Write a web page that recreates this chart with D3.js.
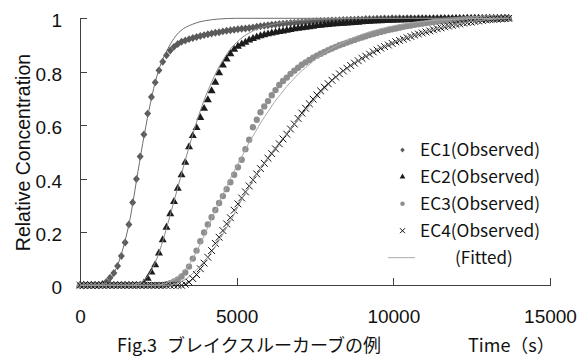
<!DOCTYPE html>
<html>
<head>
<meta charset="utf-8">
<script src="https://cdn.jsdelivr.net/npm/d3@7"></script>
<style>
  body { margin: 0; background: #fff; }
  svg { display: block; }
  .c-axis path, .c-axis line { stroke: #404040; shape-rendering: crispEdges; }
  .c-axis text { font-family: "Liberation Sans", Arial, sans-serif; font-size: 19px; fill: #111; }
</style>
</head>
<body>
<div id="breakthroughChart"></div>
<script>
// sampling times of the observed data (s)
const obsTimes = [
  0, 120, 240, 360, 480, 600, 720, 840, 960, 1080,
  1200, 1320, 1440, 1560, 1680, 1800, 1920, 2040, 2160, 2280,
  2400, 2520, 2640, 2760, 2880, 3000, 3120, 3240, 3360, 3480,
  3600, 3720, 3840, 3960, 4080, 4200, 4320, 4440, 4560, 4680,
  4800, 4920, 5040, 5160, 5280, 5400, 5520, 5640, 5760, 5880,
  6000, 6120, 6240, 6360, 6480, 6600, 6720, 6840, 6960, 7080,
  7200, 7320, 7440, 7560, 7680, 7800, 7920, 8040, 8160, 8280,
  8400, 8520, 8640, 8760, 8880, 9000, 9120, 9240, 9360, 9480,
  9600, 9720, 9840, 9960, 10080, 10200, 10320, 10440, 10560, 10680,
  10800, 10920, 11040, 11160, 11280, 11400, 11520, 11640, 11760, 11880,
  12000, 12120, 12240, 12360, 12480, 12600, 12720, 12840, 12960, 13080,
  13200, 13320, 13440, 13560, 13680
];

const ec1Observed = [
  0, 0, 0, 0, 0, 0, 0.005, 0.012, 0.028, 0.046,
  0.072, 0.11, 0.16, 0.228, 0.31, 0.398, 0.482, 0.565, 0.643, 0.705,
  0.76, 0.805, 0.837, 0.862, 0.879, 0.893, 0.904, 0.912, 0.917, 0.922,
  0.926, 0.93, 0.934, 0.937, 0.94, 0.943, 0.946, 0.948, 0.951, 0.953,
  0.955, 0.957, 0.959, 0.961, 0.962, 0.964, 0.966, 0.968, 0.97, 0.972,
  0.974, 0.976, 0.977, 0.979, 0.98, 0.981, 0.982, 0.983, 0.984, 0.985,
  0.986, 0.987, 0.988, 0.989, 0.99, 0.99, 0.991, 0.992, 0.992, 0.993,
  0.994, 0.994, 0.995, 0.995, 0.996, 0.996, 0.997, 0.997, 0.997, 0.998,
  0.998, 0.999, 0.998, 1, 0.999, 1, 0.999, 1, 1, 0.999,
  1, 1, 1, 0.999, 1, 1, 1, 1, 1, 1,
  1, 1, 1, 1, 1, 1, 1, 1, 1, 1,
  1, 1, 1, 1, 1
];

const ec2Observed = [
  0, 0, 0, 0, 0, 0, 0, 0, 0, 0,
  0, 0, 0, 0, 0, 0, 0, 0.008, 0.026, 0.049,
  0.076, 0.12, 0.17, 0.217, 0.267, 0.313, 0.363, 0.413, 0.46, 0.518,
  0.56, 0.59, 0.628, 0.662, 0.694, 0.728, 0.76, 0.795, 0.824, 0.847,
  0.867, 0.883, 0.895, 0.903, 0.91, 0.918, 0.924, 0.929, 0.934, 0.938,
  0.941, 0.944, 0.947, 0.95, 0.952, 0.955, 0.957, 0.96, 0.962, 0.964,
  0.966, 0.968, 0.97, 0.972, 0.973, 0.975, 0.976, 0.978, 0.979, 0.98,
  0.981, 0.982, 0.983, 0.984, 0.985, 0.986, 0.987, 0.988, 0.989, 0.99,
  0.99, 0.991, 0.992, 0.992, 0.993, 0.993, 0.994, 0.994, 0.995, 0.995,
  0.996, 0.996, 0.996, 0.997, 0.997, 0.997, 0.998, 0.998, 0.998, 0.998,
  0.999, 0.999, 0.999, 1, 0.999, 1, 1, 1, 1, 1,
  1, 1, 1, 1, 1
];

const ec3Observed = [
  0, 0, 0, 0, 0, 0, 0, 0, 0, 0,
  0, 0, 0, 0, 0, 0, 0, 0, 0, 0,
  0, 0, 0, 0.004, 0.008, 0.014, 0.022, 0.033, 0.048, 0.07,
  0.1, 0.13, 0.165, 0.198, 0.228, 0.255, 0.282, 0.308, 0.334, 0.36,
  0.386, 0.414, 0.442, 0.47, 0.51, 0.545, 0.592, 0.62, 0.648, 0.67,
  0.69, 0.712, 0.731, 0.75, 0.765, 0.778, 0.792, 0.804, 0.815, 0.826,
  0.835, 0.844, 0.852, 0.86, 0.867, 0.874, 0.881, 0.887, 0.893, 0.899,
  0.904, 0.909, 0.914, 0.919, 0.924, 0.928, 0.933, 0.937, 0.941, 0.945,
  0.949, 0.952, 0.956, 0.959, 0.962, 0.965, 0.968, 0.971, 0.973, 0.976,
  0.978, 0.98, 0.982, 0.984, 0.986, 0.988, 0.989, 0.991, 0.992, 0.993,
  0.994, 0.995, 0.996, 0.997, 0.997, 0.998, 0.998, 0.999, 0.999, 1,
  1, 1, 1, 1, 1
];

const ec4Observed = [
  0, 0, 0, 0, 0, 0, 0, 0, 0, 0,
  0, 0, 0, 0, 0, 0, 0, 0, 0, 0,
  0, 0, 0, 0, 0, 0, 0, 0, 0.004, 0.012,
  0.025, 0.04, 0.062, 0.083, 0.105, 0.13, 0.157, 0.18, 0.205, 0.23,
  0.253, 0.281, 0.305, 0.327, 0.35, 0.372, 0.395, 0.417, 0.437, 0.457,
  0.476, 0.493, 0.511, 0.53, 0.548, 0.566, 0.585, 0.604, 0.625, 0.645,
  0.663, 0.68, 0.697, 0.713, 0.728, 0.742, 0.755, 0.768, 0.78, 0.792,
  0.803, 0.813, 0.823, 0.832, 0.841, 0.85, 0.858, 0.866, 0.874, 0.881,
  0.888, 0.894, 0.9, 0.906, 0.912, 0.917, 0.922, 0.927, 0.932, 0.937,
  0.941, 0.945, 0.949, 0.953, 0.957, 0.961, 0.964, 0.968, 0.971, 0.974,
  0.977, 0.979, 0.982, 0.984, 0.986, 0.988, 0.99, 0.992, 0.994, 0.995,
  0.996, 0.997, 0.998, 0.999, 1
];

// fitted curves as [time, concentration]
const ec1Fitted = [
  [0, 0], [600, 0.001], [800, 0.008], [1000, 0.03], [1200, 0.075], [1400, 0.15],
  [1600, 0.25], [1800, 0.39], [2000, 0.53], [2200, 0.655], [2400, 0.76], [2600, 0.835],
  [2800, 0.885], [3000, 0.925], [3200, 0.952], [3400, 0.968], [3600, 0.978], [3800, 0.986],
  [4000, 0.991], [4400, 0.997], [5000, 1], [13680, 1]
];
const ec2Fitted = [
  [0, 0], [1600, 0], [1800, 0.004], [2000, 0.015], [2200, 0.04], [2400, 0.085],
  [2600, 0.15], [2800, 0.23], [3000, 0.315], [3200, 0.4], [3400, 0.485], [3600, 0.565],
  [3800, 0.64], [4000, 0.705], [4200, 0.76], [4400, 0.81], [4600, 0.85], [4800, 0.885],
  [5000, 0.91], [5200, 0.93], [5400, 0.945], [5600, 0.957], [6000, 0.973], [6500, 0.985],
  [7000, 0.992], [8000, 0.998], [9000, 1], [13680, 1]
];
const ec3Fitted = [
  [0, 0], [2400, 0], [2600, 0.003], [2800, 0.01], [3000, 0.022], [3200, 0.04],
  [3400, 0.065], [3600, 0.1], [3800, 0.145], [4000, 0.195], [4200, 0.25], [4400, 0.3],
  [4600, 0.35], [4800, 0.4], [5000, 0.445], [5200, 0.49], [5400, 0.535], [5600, 0.575],
  [5800, 0.615], [6000, 0.65], [6200, 0.685], [6400, 0.715], [6600, 0.745], [6800, 0.77],
  [7000, 0.795], [7200, 0.815], [7400, 0.835], [7600, 0.855], [7800, 0.87], [8000, 0.885],
  [8500, 0.915], [9000, 0.94], [9500, 0.958], [10000, 0.972], [10500, 0.982], [11000, 0.989],
  [11500, 0.994], [12000, 0.997], [13000, 0.999], [13680, 1]
];
const ec4Fitted = [
  [0, 0], [2800, 0], [3000, 0.004], [3200, 0.012], [3400, 0.025], [3600, 0.045],
  [3800, 0.068], [4000, 0.095], [4200, 0.125], [4400, 0.16], [4600, 0.2], [4800, 0.24],
  [5000, 0.285], [5200, 0.33], [5400, 0.37], [5600, 0.41], [5800, 0.445], [6000, 0.48],
  [6200, 0.51], [6400, 0.54], [6600, 0.568], [6800, 0.597], [7000, 0.625], [7200, 0.655],
  [7400, 0.683], [7600, 0.71], [8000, 0.76], [8500, 0.81], [9000, 0.85], [9500, 0.885],
  [10000, 0.91], [10500, 0.932], [11000, 0.95], [11500, 0.965], [12000, 0.978], [12500, 0.988],
  [13000, 0.995], [13680, 1]
];

const seriesNames = ['EC1(Observed)', 'EC2(Observed)', 'EC3(Observed)', 'EC4(Observed)'];
const fittedName = '(Fitted)';
const xTicks = [0, 5000, 10000, 15000];
const yTicks = [0, 0.2, 0.4, 0.6, 0.8, 1];

// little diamond, a bit taller than wide like the Excel one
const symbolDiamondSq = {
  draw(ctx, size) {
    const r = Math.sqrt(size / 2);
    ctx.moveTo(0, -r * 1.15);
    ctx.lineTo(r, 0);
    ctx.lineTo(0, r * 1.15);
    ctx.lineTo(-r, 0);
    ctx.closePath();
  }
};

class BreakthroughChart {
  constructor() {
    this.chartContainer = d3.select('#breakthroughChart');
    this.chart = null;
    this.chartWidth = 585;
    this.chartHeight = 356;
    this.plot = { left: 80, right: 550, top: 18.3, bottom: 285.3 };
    this.timeScale = null;
    this.concScale = null;
    this.observed = [ec1Observed, ec2Observed, ec3Observed, ec4Observed];
    this.fitted = [ec1Fitted, ec2Fitted, ec3Fitted, ec4Fitted];
    this.markers = [
      { type: symbolDiamondSq, size: 24, legendSize: 10, fill: '#5a5a5a', stroke: 'none' },
      { type: d3.symbolTriangle, size: 28, legendSize: 14, fill: '#1c1c1c', stroke: 'none' },
      { type: d3.symbolCircle, size: 32, legendSize: 16, fill: '#8e8e8e', stroke: 'none' },
      { type: d3.symbolTimes, size: 32, legendSize: 18, fill: 'none', stroke: '#111' }
    ];
    this.fitColors = ['#6e6e6e', '#8a8a8a', '#aaa', '#999'];
  }

  render() {
    this.createSvg();
    this.initScales();
    this.drawAxes();
    this.drawPoints();
    this.drawLines();
    this.drawLegend();
    this.drawLabels();
  }

  createSvg() {
    this.chart = this.chartContainer
      .append('svg')
      .attr('width', this.chartWidth)
      .attr('height', this.chartHeight);
  }

  initScales() {
    this.timeScale = d3.scaleLinear().domain([0, 15000]).range([this.plot.left, this.plot.right]);
    this.concScale = d3.scaleLinear().domain([0, 1]).range([this.plot.bottom, this.plot.top]);
  }

  drawAxes() {
    // ticks point inward, like the original
    let concAxis = d3.axisLeft(this.concScale)
      .tickValues(yTicks)
      .tickSizeInner(-7)
      .tickSizeOuter(0)
      .tickPadding(18)
      .tickFormat(d3.format(''));
    let timeAxis = d3.axisBottom(this.timeScale)
      .tickValues(xTicks)
      .tickSizeInner(-7)
      .tickSizeOuter(0)
      .tickFormat(d3.format('d'));

    let yg = this.chart.append('g')
      .attr('class', 'c-axis')
      .attr('transform', 'translate(' + this.plot.left + ', 0)')
      .call(concAxis);
    yg.selectAll('text').attr('dy', '0.45em');

    let xg = this.chart.append('g')
      .attr('class', 'c-axis')
      .attr('transform', 'translate(0, ' + this.plot.bottom + ')')
      .call(timeAxis);
    xg.selectAll('text').attr('y', 38).attr('dy', 0);
  }

  drawPoints() {
    this.observed.forEach((values, i) => {
      let m = this.markers[i];
      let sym = d3.symbol().type(m.type).size(m.size);
      this.chart.append('g')
        .attr('class', 'c-points')
        .selectAll('path')
        .data(values)
        .join('path')
        .attr('transform', (d, j) => 'translate(' + this.timeScale(obsTimes[j]) + ',' + this.concScale(d) + ')')
        .attr('d', sym)
        .attr('fill', m.fill)
        .attr('stroke', m.stroke)
        .attr('stroke-width', 1);
    });
  }

  drawLines() {
    let line = d3.line()
      .x((d) => this.timeScale(d[0]))
      .y((d) => this.concScale(d[1]))
      .curve(d3.curveMonotoneX);

    this.fitted.forEach((pts, i) => {
      this.chart.append('path')
        .attr('class', 'c-line')
        .attr('d', line(pts))
        .attr('fill', 'none')
        .attr('stroke', this.fitColors[i])
        .attr('stroke-width', 1);
    });
  }

  drawLegend() {
    let rowY = (i) => 150 + i * 26.9;
    let lg = this.chart.append('g').attr('class', 'c-legend');

    seriesNames.forEach((name, i) => {
      let m = this.markers[i];
      lg.append('path')
        .attr('transform', 'translate(402.5,' + rowY(i) + ')')
        .attr('d', d3.symbol().type(m.type).size(m.legendSize))
        .attr('fill', m.fill)
        .attr('stroke', m.stroke);
      lg.append('text')
        .attr('x', 420)
        .attr('y', rowY(i))
        .attr('dy', '0.36em')
        .attr('font-family', '"Noto Sans CJK JP", sans-serif')
        .attr('font-size', 17)
        .attr('textLength', 120)
        .attr('lengthAdjust', 'spacingAndGlyphs')
        .attr('fill', '#111')
        .text(name);
    });

    lg.append('line')
      .attr('x1', 388).attr('x2', 415)
      .attr('y1', rowY(4)).attr('y2', rowY(4))
      .attr('stroke', '#b8b8b8')
      .attr('stroke-width', 1.2);
    lg.append('text')
      .attr('x', 455)
      .attr('y', rowY(4))
      .attr('dy', '0.36em')
      .attr('font-family', '"Noto Sans CJK JP", sans-serif')
      .attr('font-size', 17)
      .attr('fill', '#111')
      .text(fittedName);
  }

  drawLabels() {
    this.chart.append('text')
      .attr('transform', 'translate(30, 152.5) rotate(-90)')
      .attr('text-anchor', 'middle')
      .attr('font-family', '"Liberation Sans", Arial, sans-serif')
      .attr('font-size', 19.5)
      .attr('fill', '#111')
      .text('Relative Concentration');

    // caption in two pieces so the wide gap after "Fig.3" survives
    let caption = this.chart.append('text')
      .attr('y', 351.5)
      .attr('font-family', '"Noto Sans CJK JP", sans-serif')
      .attr('font-size', 18)
      .attr('fill', '#111');
    caption.append('tspan').attr('x', 117).text('Fig.3');
    caption.append('tspan').attr('x', 167).text('ブレイクスルーカーブの例');

    this.chart.append('text')
      .attr('x', 468)
      .attr('y', 351.5)
      .attr('font-family', '"Noto Sans CJK JP", sans-serif')
      .attr('font-size', 18)
      .attr('fill', '#111')
      .text('Time（s）');
  }
}

new BreakthroughChart().render();
</script>
</body>
</html>
